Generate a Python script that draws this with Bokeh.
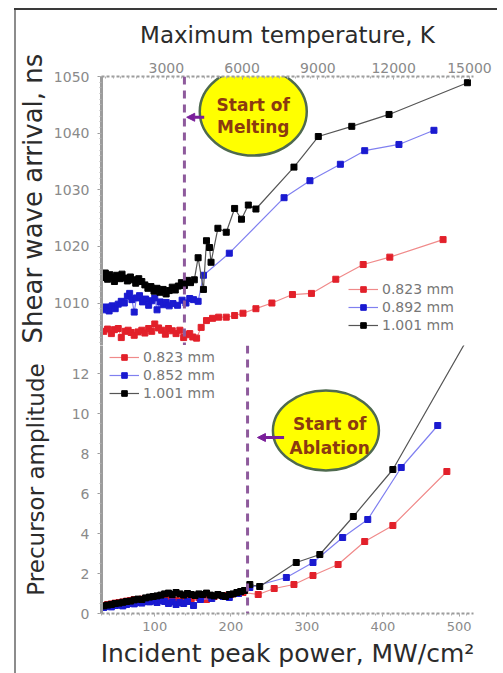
from bokeh.plotting import figure
from bokeh.layouts import column, row
from bokeh.models import (Range1d, LinearAxis, SingleIntervalTicker, Span, Arrow,
                          NormalHead, Label, Legend, LegendItem, Div, Title)
from bokeh.embed import file_html
from bokeh.resources import INLINE

# ---------------- data ----------------
# Top panel: shear wave arrival (ns) vs incident peak power (MW/cm^2)
power_top_black = [32, 35, 38, 41, 44, 47, 50, 54, 57, 61, 64, 68, 72, 75, 79, 83, 87, 91, 95, 99,
                   103, 107, 111, 115, 119, 123, 127, 131, 135, 139, 143, 147, 152, 157, 164, 168,
                   172, 174, 183, 194, 205, 214, 223, 233, 283, 315, 359, 408, 511]
arrival_black = [1014.5, 1015.3, 1014.2, 1015.0, 1014.6, 1013.8, 1014.9, 1014.3, 1015.1, 1014.4,
                 1013.9, 1014.6, 1014.1, 1013.5, 1014.3, 1013.8, 1013.2, 1012.6, 1012.9, 1012.1,
                 1012.6, 1011.9, 1012.4, 1011.6, 1012.2, 1012.8, 1012.3, 1013.0, 1013.6, 1013.1,
                 1014.0, 1013.6, 1014.1, 1018.0, 1012.4, 1021.0, 1019.8, 1017.2, 1023.2, 1022.5,
                 1026.7, 1024.8, 1027.3, 1026.6, 1034.0, 1039.4, 1041.2, 1043.3, 1048.9]

power_top_blue = [32, 36, 40, 44, 48, 52, 56, 60, 64, 67, 70, 73, 76, 80, 84, 88, 92, 96, 100, 103,
                  107, 111, 115, 119, 124, 130, 136, 141, 146, 151, 157, 164, 198, 270, 304, 344,
                  376, 421, 467]
arrival_blue = [1008.8, 1009.3, 1008.6, 1009.5, 1009.0, 1009.8, 1010.3, 1010.0, 1011.2, 1011.7,
                1010.6, 1008.4, 1010.9, 1011.3, 1010.2, 1010.7, 1009.6, 1010.4, 1010.9, 1008.8,
                1010.2, 1009.7, 1010.1, 1009.5, 1009.9, 1009.6, 1010.5, 1010.0, 1010.8, 1010.6,
                1010.3, 1014.9, 1018.8, 1028.6, 1031.6, 1034.5, 1036.9, 1038.0, 1040.5]

power_top_red = [33, 38, 43, 47, 52, 56, 61, 65, 69, 73, 78, 83, 87, 92, 96, 100, 105, 109, 114, 118,
                 123, 128, 133, 138, 142, 146, 150, 155, 161, 168, 176, 184, 194, 205, 216, 233,
                 254, 281, 306, 338, 374, 409, 479]
arrival_red = [1005.0, 1005.4, 1004.6, 1005.3, 1005.5, 1003.9, 1005.0, 1005.2, 1004.8, 1004.3,
               1004.9, 1005.2, 1004.7, 1005.5, 1005.0, 1006.3, 1005.6, 1005.2, 1004.5, 1005.5,
               1005.1, 1004.6, 1005.2, 1003.9, 1004.4, 1004.6, 1004.0, 1003.8, 1005.7, 1006.9,
               1007.3, 1007.5, 1007.5, 1007.8, 1008.2, 1009.0, 1010.0, 1011.5, 1011.7, 1014.2,
               1016.8, 1018.1, 1021.2]

# Bottom panel: precursor amplitude vs incident peak power
power_bot_black = [33, 38, 43, 48, 53, 58, 63, 68, 73, 78, 83, 88, 93, 98, 103, 108, 113, 118, 123,
                   128, 133, 138, 143, 148, 153, 158, 163, 168, 173, 178, 183, 188, 193, 198, 203,
                   208, 213, 218, 225, 238, 286, 317, 361, 413, 512]
amp_black = [0.38, 0.42, 0.45, 0.50, 0.52, 0.56, 0.60, 0.62, 0.68, 0.72, 0.70, 0.78, 0.82, 0.85,
             0.88, 0.92, 0.98, 1.02, 0.95, 1.05, 0.98, 0.92, 1.00, 0.95, 0.90, 0.98, 0.95, 1.02,
             0.92, 0.88, 0.95, 0.90, 0.85, 0.95, 0.98, 1.05, 1.10, 1.15, 1.45, 1.35, 2.55, 2.95,
             4.85, 7.20, 13.8]

power_bot_blue = [33, 38, 43, 48, 53, 58, 63, 68, 73, 78, 83, 88, 93, 98, 103, 108, 113, 118, 123,
                  128, 133, 138, 143, 151, 160, 175, 190, 198, 210, 225, 273, 308, 347, 380, 424, 472]
amp_blue = [0.30, 0.35, 0.33, 0.40, 0.42, 0.38, 0.45, 0.50, 0.48, 0.55, 0.52, 0.60, 0.58, 0.62,
            0.55, 0.65, 0.60, 0.50, 0.58, 0.45, 0.55, 0.50, 0.60, 0.40, 0.70, 0.75, 0.85, 0.80,
            1.00, 1.30, 1.80, 2.55, 3.80, 4.70, 7.30, 9.40]

power_bot_red = [33, 38, 43, 48, 53, 58, 63, 68, 73, 78, 83, 88, 93, 98, 103, 108, 113, 118, 123,
                 128, 133, 140, 148, 158, 168, 178, 190, 200, 210, 216, 236, 257, 283, 308, 341,
                 376, 413, 484]
amp_red = [0.40, 0.45, 0.48, 0.52, 0.55, 0.58, 0.62, 0.65, 0.70, 0.68, 0.72, 0.75, 0.70, 0.78,
           0.80, 0.75, 0.72, 0.70, 0.68, 0.65, 0.62, 0.70, 0.75, 0.80, 0.70, 0.85, 0.90, 0.95,
           1.00, 1.05, 0.95, 1.25, 1.45, 1.90, 2.45, 3.60, 4.40, 7.10]

labels_top = ["0.823 mm", "0.892 mm", "1.001 mm"]
labels_bot = ["0.823 mm", "0.852 mm", "1.001 mm"]
melting_power = 139
ablation_power = 222

# ---------------- styling ----------------
FONT = "DejaVu Sans"
TICK_TXT = "#8a8a8a"
AXIS_COL = "#9c9c9c"
TITLE_COL = "#2b2b2b"
DASH_COL = "#8e5a9c"
ARROW_COL = "#7a1f9a"
ELL_FILL = "#ffff00"
ELL_LINE = "#4f6a4f"
ANN_TXT = "#8b3a10"

COLORS = {"red": ("#f08a8a", "#e2202a"),
          "blue": ("#8080f0", "#1a1ad0"),
          "black": ("#555555", "#000000")}


def style_axis(ax, title_size="23px", tick_size="14px"):
    ax.axis_line_color = AXIS_COL
    ax.major_tick_line_color = AXIS_COL
    ax.minor_tick_line_color = "#b0b0b0"
    ax.major_label_text_color = TICK_TXT
    ax.major_label_text_font = FONT
    ax.major_label_text_font_size = tick_size
    ax.axis_label_text_font = FONT
    ax.axis_label_text_font_size = title_size
    ax.axis_label_text_color = TITLE_COL
    ax.axis_label_text_font_style = "normal"


def draw_series(p, xs, ys, key):
    lc, mc = COLORS[key]
    rl = p.line(xs, ys, line_color=lc, line_width=1.2)
    rs = p.scatter(xs, ys, marker="square", size=6, fill_color=mc, line_color=mc)
    return rl, rs


x_range = Range1d(30, 519)
FIG_W = 487

# ---------------- top panel ----------------
p1 = figure(width=FIG_W, height=335, x_range=x_range, y_range=Range1d(1002.5, 1050),
            x_axis_location=None, output_backend="svg", toolbar_location=None,
            min_border_left=84, min_border_right=FIG_W - 84 - 373, min_border_top=66,
            min_border_bottom=0)
p1.extra_x_ranges = {"temp": Range1d(434, 15160)}
top_axis = LinearAxis(x_range_name="temp", axis_label="Maximum temperature, K",
                      ticker=SingleIntervalTicker(interval=3000, num_minor_ticks=10))
p1.add_layout(top_axis, "above")
style_axis(top_axis, "23px")
top_axis.axis_line_dash = "3 2"
top_axis.axis_line_width = 2
top_axis.major_tick_out = 0
top_axis.major_tick_in = 3
top_axis.minor_tick_out = 0
top_axis.minor_tick_in = 2
top_axis.major_label_standoff = 4
top_axis.axis_label_standoff = 12

ly1 = p1.yaxis[0]
ly1.ticker = SingleIntervalTicker(interval=10, num_minor_ticks=10)
style_axis(ly1)
ly1.axis_line_width = 3
ly1.major_tick_out = 4
ly1.major_tick_in = 0
ly1.minor_tick_out = 2
ly1.minor_tick_in = 0
ly1.major_label_standoff = 8
p1.add_layout(Title(text="Shear wave arrival, ns", align="left", vertical_align="top",
                    offset=2, standoff=2, text_font=FONT, text_font_size="26px",
                    text_font_style="normal", text_color=TITLE_COL), "left")

p1.grid.visible = False
p1.outline_line_color = None

p1.add_layout(Span(location=melting_power, dimension="height", line_color=DASH_COL,
                   line_width=3, line_dash="8 6"))

r_red1 = draw_series(p1, power_top_red, arrival_red, "red")
r_blue1 = draw_series(p1, power_top_blue, arrival_blue, "blue")
r_black1 = draw_series(p1, power_top_black, arrival_black, "black")

# "Start of Melting" callout
p1.ellipse(x=[229.5], y=[1043.8], width=107, height=88, width_units="screen",
           height_units="screen", fill_color=ELL_FILL, line_color=ELL_LINE, line_width=2.5)
p1.add_layout(Label(x=229.5, y=1045.0, text="Start of", text_align="center",
                    text_baseline="middle", text_font=FONT, text_font_size="17px",
                    text_font_style="bold", text_color=ANN_TXT))
p1.add_layout(Label(x=229.5, y=1041.1, text="Melting", text_align="center",
                    text_baseline="middle", text_font=FONT, text_font_size="17px",
                    text_font_style="bold", text_color=ANN_TXT))
p1.add_layout(Arrow(end=NormalHead(size=8, fill_color=ARROW_COL, line_color=ARROW_COL),
                    x_start=165, y_start=1042.8, x_end=142, y_end=1042.8,
                    line_color=ARROW_COL, line_width=3))

leg1 = Legend(items=[LegendItem(label=labels_top[0], renderers=list(r_red1)),
                     LegendItem(label=labels_top[1], renderers=list(r_blue1)),
                     LegendItem(label=labels_top[2], renderers=list(r_black1))],
              location=(247, 12))
p1.add_layout(leg1)

# ---------------- bottom panel ----------------
p2 = figure(width=FIG_W, height=328, x_range=x_range, y_range=Range1d(0, 13.4),
            output_backend="svg", toolbar_location=None,
            min_border_left=84, min_border_right=FIG_W - 84 - 373, min_border_top=0,
            min_border_bottom=60)
bx = p2.xaxis[0]
bx.axis_label = "Incident peak power, MW/cm²"
bx.ticker = SingleIntervalTicker(interval=100, num_minor_ticks=10)
style_axis(bx, "25px", "13px")
bx.axis_line_dash = "3 2"
bx.axis_line_width = 2
bx.major_tick_out = 3
bx.major_tick_in = 0
bx.minor_tick_out = 2
bx.minor_tick_in = 0
bx.major_label_standoff = 5
bx.axis_label_standoff = 5

ly2 = p2.yaxis[0]
ly2.axis_label = "Precursor amplitude"
ly2.ticker = SingleIntervalTicker(interval=2, num_minor_ticks=4)
style_axis(ly2, "23px")
ly2.axis_line_width = 3
ly2.major_tick_out = 4
ly2.major_tick_in = 0
ly2.minor_tick_out = 2
ly2.minor_tick_in = 0
ly2.major_label_standoff = 8
ly2.axis_label_standoff = 20

p2.grid.visible = False
p2.outline_line_color = None

p2.add_layout(Span(location=ablation_power, dimension="height", line_color=DASH_COL,
                   line_width=3, line_dash="8 6"))

r_red2 = draw_series(p2, power_bot_red, amp_red, "red")
r_blue2 = draw_series(p2, power_bot_blue, amp_blue, "blue")
r_black2 = draw_series(p2, power_bot_black, amp_black, "black")

# "Start of Ablation" callout
p2.ellipse(x=[325], y=[9.15], width=106, height=80, width_units="screen",
           height_units="screen", fill_color=ELL_FILL, line_color=ELL_LINE, line_width=2.5)
p2.add_layout(Label(x=330, y=9.5, text="Start of", text_align="center",
                    text_baseline="middle", text_font=FONT, text_font_size="17px",
                    text_font_style="bold", text_color=ANN_TXT))
p2.add_layout(Label(x=330, y=8.3, text="Ablation", text_align="center",
                    text_baseline="middle", text_font=FONT, text_font_size="17px",
                    text_font_style="bold", text_color=ANN_TXT))
p2.add_layout(Arrow(end=NormalHead(size=8, fill_color=ARROW_COL, line_color=ARROW_COL),
                    x_start=270, y_start=8.8, x_end=235, y_end=8.8,
                    line_color=ARROW_COL, line_width=3))

leg2 = Legend(items=[LegendItem(label=labels_bot[0], renderers=list(r_red2)),
                     LegendItem(label=labels_bot[1], renderers=list(r_blue2)),
                     LegendItem(label=labels_bot[2], renderers=list(r_black2))],
              location=(8, 212))
p2.add_layout(leg2)

for lg in (leg1, leg2):
    lg.background_fill_alpha = 0
    lg.border_line_alpha = 0
    lg.label_text_font = FONT
    lg.label_text_font_size = "14px"
    lg.label_text_color = "#777777"
    lg.glyph_width = 30
    lg.glyph_height = 14
    lg.label_height = 14
    lg.spacing = 2
    lg.padding = 0
    lg.margin = 0
    lg.label_standoff = 4

# frame lines of the scanned figure (top dark rule, left grey rule)
top_rule = Div(text="", width=483, height=2, margin=(8, 0, 0, 14),
               styles={"background-color": "#3a3a3a"})
left_rule = Div(text="", width=2, height=663, margin=(0, 0, 0, 14),
                styles={"background-color": "#8c8c8c"})

layout = column(top_rule, row(left_rule, column(p1, p2, spacing=0), spacing=0), spacing=0)
open("out.html", "w").write(file_html(layout, INLINE))
